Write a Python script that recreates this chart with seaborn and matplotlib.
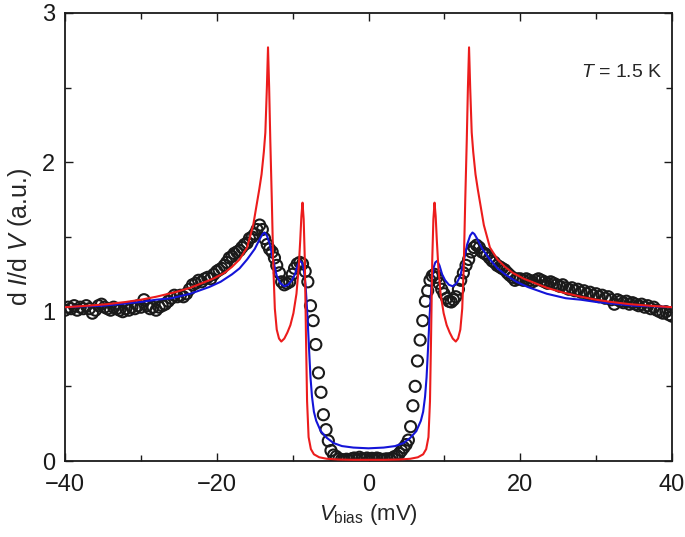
import matplotlib
matplotlib.use('Agg')
import matplotlib.pyplot as plt
import seaborn as sns
from matplotlib.ticker import MultipleLocator

sns.set_theme(style='ticks', context='notebook')
plt.rcParams['font.family'] = ['Liberation Sans', 'DejaVu Sans']
plt.rcParams['mathtext.fontset'] = 'custom'
plt.rcParams['mathtext.rm'] = 'Liberation Sans'
plt.rcParams['mathtext.it'] = 'Liberation Sans:italic'

# measured dI/dV (open circles)
v_data = [-40.0, -39.6, -39.2, -38.8, -38.4, -38.0, -37.6, -37.2, -36.8, -36.4,
          -36.0, -35.6, -35.2, -34.8, -34.4, -34.0, -33.6, -33.2, -32.8, -32.4,
          -32.0, -31.6, -31.2, -30.8, -30.4, -30.0, -29.6, -29.2, -28.8, -28.4,
          -28.0, -27.6, -27.2, -26.8, -26.4, -26.0, -25.6, -25.2, -24.8, -24.4,
          -24.0, -23.6, -23.2, -22.8, -22.4, -22.0, -21.6, -21.2, -20.8, -20.4,
          -20.0, -19.7, -19.35, -19.0, -18.7, -18.35, -18.0, -17.7, -17.35, -17.0,
          -16.7, -16.35, -16.0, -15.7, -15.35, -15.0, -14.7, -14.35, -14.0, -13.7,
          -13.35, -13.05, -12.7, -12.4, -12.1, -11.75, -11.45, -11.1, -10.75, -10.4,
          -10.05, -9.75, -9.4, -9.05, -8.7, -8.35, -8.0, -7.65, -7.3, -6.95,
          -6.6, -6.27, -5.95, -5.6, -5.3, -4.95, -4.6, -4.25, -3.9, -3.55,
          -3.2, -2.9, -2.55, -2.2, -1.9, -1.55, -1.2, -0.9, -0.55, -0.2,
          0.1, 0.45, 0.8, 1.1, 1.45, 1.8, 2.1, 2.45, 2.8, 3.1,
          3.45, 3.75, 4.05, 4.35, 4.65, 4.95, 5.25, 5.55, 5.85, 6.15,
          6.45, 6.8, 7.15, 7.5, 7.8, 8.1, 8.4, 8.7, 9.0, 9.3,
          9.65, 9.95, 10.3, 10.6, 10.9, 11.2, 11.5, 11.85, 12.15, 12.5,
          12.85, 13.2, 13.55, 13.9, 14.25, 14.6, 14.95, 15.3, 15.6, 15.95,
          16.3, 16.6, 16.95, 17.3, 17.6, 17.95, 18.3, 18.6, 18.95, 19.3,
          19.65, 20.0, 20.4, 20.8, 21.2, 21.6, 22.0, 22.4, 22.8, 23.2,
          23.6, 24.0, 24.4, 24.8, 25.2, 25.6, 26.0, 26.4, 26.8, 27.2,
          27.6, 28.0, 28.4, 28.8, 29.2, 29.6, 30.0, 30.4, 30.8, 31.2,
          31.6, 32.0, 32.4, 32.8, 33.2, 33.6, 34.0, 34.4, 34.8, 35.2,
          35.6, 36.0, 36.4, 36.8, 37.2, 37.6, 38.0, 38.4, 38.8, 39.2,
          39.6, 40.0]
didv_data = [1.01, 1.03, 1.02, 1.04, 1.01, 1.03, 1.02, 1.04, 1.02, 0.99,
             1.01, 1.04, 1.05, 1.03, 1.02, 1.01, 1.03, 1.02, 1.01, 1.00,
             1.02, 1.01, 1.03, 1.02, 1.04, 1.03, 1.08, 1.04, 1.02, 1.03,
             1.01, 1.03, 1.04, 1.05, 1.07, 1.09, 1.11, 1.10, 1.11, 1.10,
             1.12, 1.15, 1.18, 1.19, 1.21, 1.20, 1.22, 1.23, 1.22, 1.25,
             1.27, 1.28, 1.29, 1.31, 1.33, 1.36, 1.37, 1.39, 1.40, 1.41,
             1.43, 1.45, 1.46, 1.49, 1.50, 1.52, 1.55, 1.58, 1.55, 1.49,
             1.45, 1.42, 1.40, 1.36, 1.31, 1.26, 1.20, 1.18, 1.19, 1.20,
             1.25, 1.29, 1.32, 1.33, 1.32, 1.27, 1.20, 1.04, 0.94, 0.78,
             0.59, 0.46, 0.31, 0.21, 0.135, 0.07, 0.04, 0.03, 0.015, 0.01,
             0.005, 0.012, 0.008, 0.015, 0.02, 0.01, 0.025, 0.015, 0.01, 0.02,
             0.012, 0.018, 0.01, 0.02, 0.015, 0.008, 0.012, 0.015, 0.01, 0.02,
             0.03, 0.035, 0.05, 0.07, 0.09, 0.11, 0.14, 0.23, 0.37, 0.50,
             0.67, 0.81, 0.94, 1.07, 1.14, 1.21, 1.24, 1.25, 1.23, 1.19,
             1.15, 1.12, 1.09, 1.07, 1.065, 1.08, 1.10, 1.15, 1.21, 1.26,
             1.31, 1.35, 1.40, 1.43, 1.445, 1.43, 1.40, 1.39, 1.38, 1.36,
             1.34, 1.33, 1.31, 1.30, 1.29, 1.28, 1.26, 1.245, 1.23, 1.21,
             1.22, 1.22, 1.21, 1.22, 1.21, 1.20, 1.21, 1.22, 1.21, 1.20,
             1.19, 1.20, 1.19, 1.18, 1.17, 1.18, 1.16, 1.15, 1.16, 1.14,
             1.15, 1.13, 1.14, 1.12, 1.13, 1.11, 1.12, 1.10, 1.11, 1.09,
             1.10, 1.08, 1.05, 1.08, 1.07, 1.06, 1.07, 1.05, 1.06, 1.05,
             1.04, 1.05, 1.03, 1.04, 1.02, 1.03, 1.01, 1.00, 0.99, 1.00,
             0.98, 0.97]

# sharp fit (red)
v_red = [-40, -37, -34.5, -32, -30, -28, -25.5, -23.5, -22, -20.5,
         -19, -18, -17, -16, -15.2, -14.7, -14.4, -14.1, -13.8, -13.6,
         -13.4, -13.25, -13.1, -12.95, -12.75, -12.55, -12.35, -12.1, -11.8, -11.5,
         -11.1, -10.7, -10.3, -9.9, -9.5, -9.2, -9.0, -8.85, -8.7, -8.55,
         -8.4, -8.25, -8.1, -7.9, -7.6, -7.2, -6.5, -5.5, -4, -2,
         0,
         2, 4, 5.5, 6.5, 7.2, 7.6, 7.9, 8.1, 8.25, 8.4,
         8.55, 8.7, 8.85, 9.0, 9.2, 9.5, 9.9, 10.3, 10.7, 11.1,
         11.5, 11.8, 12.1, 12.35, 12.55, 12.75, 12.95, 13.1, 13.25, 13.4,
         13.6, 13.8, 14.1, 14.4, 14.7, 15.2, 16, 17, 18, 19,
         20.5, 22, 23.5, 25.5, 28, 30, 32, 34.5, 37, 40]
didv_red = [1.03, 1.04, 1.05, 1.065, 1.08, 1.10, 1.13, 1.16, 1.19, 1.22,
            1.26, 1.30, 1.35, 1.43, 1.58, 1.73, 1.82, 1.92, 2.07, 2.2,
            2.5, 2.77, 2.5, 2.15, 1.75, 1.3, 1.02, 0.88, 0.82, 0.80,
            0.82, 0.86, 0.91, 0.99, 1.12, 1.30, 1.48, 1.64, 1.73, 1.62,
            1.35, 0.85, 0.4, 0.16, 0.08, 0.045, 0.025, 0.015, 0.01, 0.008,
            0.008,
            0.008, 0.01, 0.015, 0.025, 0.045, 0.08, 0.16, 0.4, 0.85, 1.35,
            1.62, 1.73, 1.64, 1.48, 1.30, 1.12, 0.99, 0.91, 0.86, 0.82,
            0.80, 0.82, 0.88, 1.02, 1.3, 1.75, 2.15, 2.5, 2.77, 2.5,
            2.2, 2.07, 1.92, 1.82, 1.73, 1.58, 1.43, 1.35, 1.30, 1.26,
            1.22, 1.19, 1.16, 1.13, 1.10, 1.08, 1.065, 1.05, 1.04, 1.03]

# broadened fit (blue)
v_blue = [-40, -38, -35, -32, -30, -28, -26, -23.5, -21, -19.5,
          -18, -17, -16, -15, -14.3, -13.95, -13.7, -13.4, -13.0, -12.6,
          -12.1, -11.6, -11.1, -10.6, -10.1, -9.7, -9.35, -9.05, -8.8, -8.55,
          -8.3, -8.05, -7.85, -7.65, -7.45, -7.2, -6.9, -6.3, -5.5, -4.6,
          -3.5, -2, 0, 2, 3.5, 4.6, 5.5, 6.3, 6.9, 7.2,
          7.45, 7.65, 7.85, 8.05, 8.3, 8.55, 8.8, 9.05, 9.35, 9.7,
          10.1, 10.6, 11.1, 11.6, 12.1, 12.6, 13.0, 13.4, 13.7, 13.95,
          14.3, 15, 16, 17, 18, 19.5, 21, 23.5, 26, 28,
          30, 32, 35, 38, 40]
didv_blue = [1.03, 1.035, 1.04, 1.055, 1.065, 1.08, 1.09, 1.12, 1.165, 1.20,
             1.25, 1.29, 1.35, 1.42, 1.49, 1.52, 1.53, 1.51, 1.45, 1.35,
             1.24, 1.19, 1.17, 1.18, 1.21, 1.25, 1.31, 1.34, 1.33, 1.29,
             1.18, 0.97, 0.76, 0.56, 0.43, 0.33, 0.27, 0.20, 0.155, 0.12,
             0.10, 0.09, 0.085, 0.09, 0.10, 0.12, 0.155, 0.20, 0.27, 0.33,
             0.43, 0.56, 0.76, 0.97, 1.18, 1.29, 1.33, 1.34, 1.31, 1.25,
             1.21, 1.18, 1.17, 1.19, 1.24, 1.35, 1.45, 1.51, 1.53, 1.52,
             1.49, 1.42, 1.35, 1.29, 1.25, 1.20, 1.165, 1.12, 1.09, 1.08,
             1.065, 1.055, 1.04, 1.035, 1.03]

fig = plt.figure(figsize=(6.85, 5.37), dpi=100)
ax = fig.add_axes([0.095, 0.1415, 0.886, 0.8343])

sns.scatterplot(x=v_data, y=didv_data, ax=ax, marker='o', s=64,
                facecolors='none', edgecolor='k', linewidth=1.5, zorder=2)
sns.lineplot(x=v_blue, y=didv_blue, ax=ax, color='#1414d8', linewidth=1.5,
             sort=False, estimator=None, zorder=3)
sns.lineplot(x=v_red, y=didv_red, ax=ax, color='#ec1c1c', linewidth=1.5,
             sort=False, estimator=None, zorder=4)

ax.set_xlim(-40, 40)
ax.set_ylim(0, 3)
ax.set_xticks([-40, -20, 0, 20, 40])
ax.set_xticklabels(['\u221240', '\u221220', '0', '20', '40'])
ax.xaxis.set_minor_locator(MultipleLocator(10))
ax.yaxis.set_major_locator(MultipleLocator(1))
ax.yaxis.set_minor_locator(MultipleLocator(0.5))
ax.tick_params(which='both', direction='in', top=True, right=True,
               colors='k', labelsize=17, width=1.0)
ax.tick_params(which='major', length=6)
ax.tick_params(which='minor', length=4)
ax.tick_params(axis='x', which='major', pad=9)
ax.tick_params(axis='y', which='major', pad=7)
for s in ax.spines.values():
    s.set_color('k')
    s.set_linewidth(1.3)

ax.set_xlabel(r'$\it{V}_{\rm bias}$ (mV)', fontsize=16, labelpad=5)
ax.set_ylabel(r'd$\ \it{I}$/d$\ \it{V}$ (a.u.)', fontsize=18, labelpad=6)
ax.text(33.4, 2.6, r'$\it{T}$ = 1.5 K', fontsize=14, ha='center', va='center')

fig.savefig('out.png', dpi=100)
